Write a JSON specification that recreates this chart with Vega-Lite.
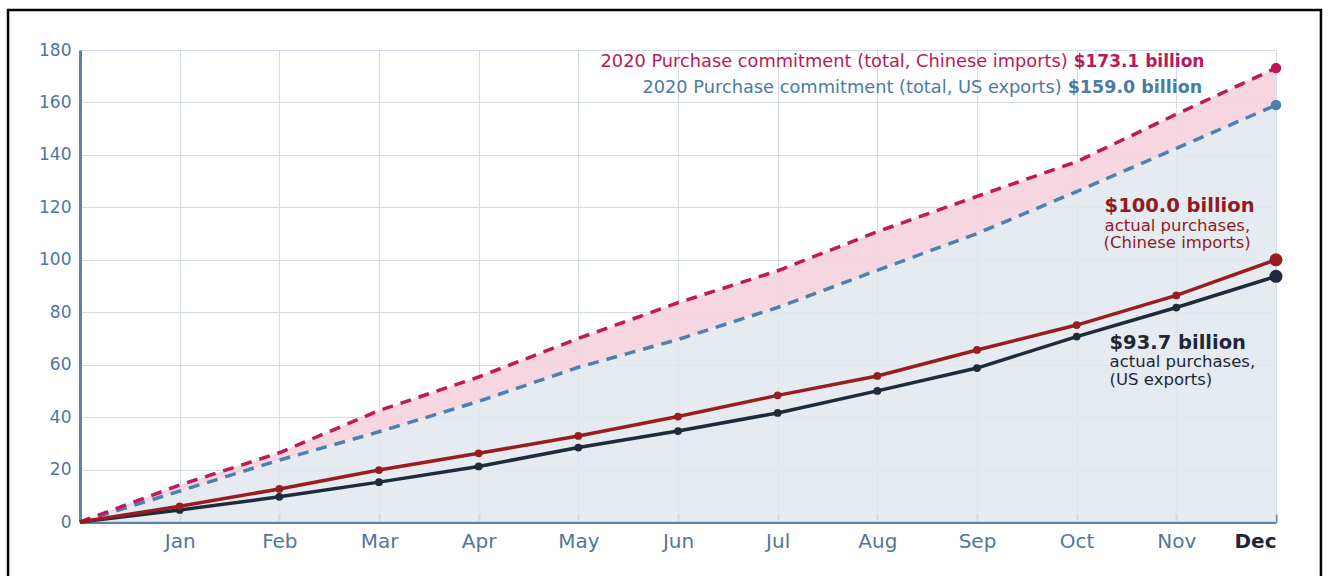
{
  "$schema": "https://vega.github.io/schema/vega-lite/v6.json",
  "width": 1196,
  "height": 472,
  "autosize": {"type": "none"},
  "padding": {"left": 80, "top": 50, "right": 54, "bottom": 54},
  "background": "white",
  "config": {
    "view": {"stroke": null},
    "font": "DejaVu Sans",
    "axis": {"zindex": 1}
  },
  "datasets": {
    "series": [
      {"month": 0, "cn_commit": 0, "us_commit": 0, "cn_actual": 0, "us_actual": 0},
      {"month": 1, "cn_commit": 14.1, "us_commit": 11.8, "cn_actual": 6.0, "us_actual": 4.6},
      {"month": 2, "cn_commit": 26.4, "us_commit": 23.6, "cn_actual": 12.6, "us_actual": 9.6},
      {"month": 3, "cn_commit": 42.5, "us_commit": 34.4, "cn_actual": 19.8, "us_actual": 15.2},
      {"month": 4, "cn_commit": 55.3, "us_commit": 46.0, "cn_actual": 26.2, "us_actual": 21.2},
      {"month": 5, "cn_commit": 70.0, "us_commit": 59.0, "cn_actual": 32.8, "us_actual": 28.4},
      {"month": 6, "cn_commit": 83.6, "us_commit": 69.6, "cn_actual": 40.2, "us_actual": 34.7},
      {"month": 7, "cn_commit": 95.8, "us_commit": 81.8, "cn_actual": 48.3, "us_actual": 41.6},
      {"month": 8, "cn_commit": 110.7, "us_commit": 96.0, "cn_actual": 55.7, "us_actual": 50.0},
      {"month": 9, "cn_commit": 124.2, "us_commit": 110.0, "cn_actual": 65.6, "us_actual": 58.7},
      {"month": 10, "cn_commit": 137.4, "us_commit": 126.0, "cn_actual": 75.1, "us_actual": 70.7},
      {"month": 11, "cn_commit": 155.5, "us_commit": 142.5, "cn_actual": 86.4, "us_actual": 81.8},
      {"month": 12, "cn_commit": 173.1, "us_commit": 159.0, "cn_actual": 100.0, "us_actual": 93.7}
    ],
    "labels": [
      {"id": "cn_top_reg", "month": 9.91, "value": 175.4, "text": "2020 Purchase commitment (total, Chinese imports)"},
      {"id": "cn_top_bold", "month": 9.97, "value": 175.4, "text": "$173.1 billion"},
      {"id": "us_top_reg", "month": 9.85, "value": 165.5, "text": "2020 Purchase commitment (total, US exports)"},
      {"id": "us_top_bold", "month": 9.91, "value": 165.5, "text": "$159.0 billion"},
      {"id": "cn_right_bold", "month": 10.28, "value": 120.5, "text": "$100.0 billion"},
      {"id": "cn_right_reg", "month": 10.28, "value": 113.0, "text": "actual purchases,"},
      {"id": "cn_right_reg", "month": 10.27, "value": 106.3, "text": "(Chinese imports)"},
      {"id": "us_right_bold", "month": 10.33, "value": 68.3, "text": "$93.7 billion"},
      {"id": "us_right_reg", "month": 10.33, "value": 61.0, "text": "actual purchases,"},
      {"id": "us_right_reg", "month": 10.33, "value": 54.2, "text": "(US exports)"}
    ]
  },
  "data": {"name": "series"},
  "encoding": {
    "x": {
      "field": "month",
      "type": "quantitative",
      "scale": {"domain": [0, 12], "nice": false, "zero": false},
      "axis": {
        "title": null,
        "values": [1, 2, 3, 4, 5, 6, 7, 8, 9, 10, 11, 12],
        "labelExpr": "['','Jan','Feb','Mar','Apr','May','Jun','Jul','Aug','Sep','Oct','Nov','Dec'][datum.value]",
        "labelFontSize": 20,
        "labelColor": {"condition": {"test": "datum.value == 12", "value": "#1e2733"}, "value": "#52769a"},
        "labelFontWeight": {"condition": {"test": "datum.value == 12", "value": "bold"}, "value": "normal"},
        "labelPadding": 17,
        "tickSize": -8,
        "tickWidth": 2,
        "tickColor": "#5d82a8",
        "domainColor": "#5d82a8",
        "domainWidth": 3,
        "grid": true,
        "gridColor": "#d3dce6",
        "gridWidth": 1
      }
    },
    "y": {
      "field": "us_commit",
      "type": "quantitative",
      "scale": {"domain": [0, 180], "nice": false},
      "axis": {
        "title": null,
        "values": [0, 20, 40, 60, 80, 100, 120, 140, 160, 180],
        "labelFontSize": 17,
        "labelColor": "#4f76a0",
        "labelPadding": 9,
        "ticks": false,
        "domainColor": "#5d82a8",
        "domainWidth": 3,
        "grid": true,
        "gridColor": "#d3dce6",
        "gridWidth": 1
      }
    }
  },
  "layer": [
    {
      "mark": {"type": "area", "color": "#e1e7ef", "opacity": 0.85},
      "encoding": {"y": {"field": "us_commit", "type": "quantitative"}, "y2": {"datum": 0}}
    },
    {
      "mark": {"type": "area", "color": "#f5d3de", "opacity": 0.9},
      "encoding": {"y": {"field": "cn_commit", "type": "quantitative"}, "y2": {"field": "us_commit"}}
    },
    {
      "mark": {"type": "line", "color": "#4c80b0", "strokeWidth": 3.5, "strokeDash": [11, 8]},
      "encoding": {"y": {"field": "us_commit", "type": "quantitative"}}
    },
    {
      "mark": {"type": "line", "color": "#c0185a", "strokeWidth": 3.5, "strokeDash": [11, 8]},
      "encoding": {"y": {"field": "cn_commit", "type": "quantitative"}}
    },
    {
      "mark": {"type": "line", "color": "#1d2b3c", "strokeWidth": 3.5},
      "encoding": {"y": {"field": "us_actual", "type": "quantitative"}}
    },
    {
      "mark": {"type": "line", "color": "#991d20", "strokeWidth": 3.5},
      "encoding": {"y": {"field": "cn_actual", "type": "quantitative"}}
    },
    {
      "transform": [{"filter": "datum.month > 0 && datum.month < 12"}],
      "mark": {"type": "circle", "color": "#1d2b3c", "opacity": 1, "size": 60},
      "encoding": {"y": {"field": "us_actual", "type": "quantitative"}}
    },
    {
      "transform": [{"filter": "datum.month > 0 && datum.month < 12"}],
      "mark": {"type": "circle", "color": "#991d20", "opacity": 1, "size": 60},
      "encoding": {"y": {"field": "cn_actual", "type": "quantitative"}}
    },
    {
      "transform": [{"filter": "datum.month == 12"}],
      "mark": {"type": "circle", "color": "#4c80b0", "opacity": 1, "size": 110},
      "encoding": {"y": {"field": "us_commit", "type": "quantitative"}}
    },
    {
      "transform": [{"filter": "datum.month == 12"}],
      "mark": {"type": "circle", "color": "#c0185a", "opacity": 1, "size": 110},
      "encoding": {"y": {"field": "cn_commit", "type": "quantitative"}}
    },
    {
      "transform": [{"filter": "datum.month == 12"}],
      "mark": {"type": "circle", "color": "#1d2b3c", "opacity": 1, "size": 170},
      "encoding": {"y": {"field": "us_actual", "type": "quantitative"}}
    },
    {
      "transform": [{"filter": "datum.month == 12"}],
      "mark": {"type": "circle", "color": "#991d20", "opacity": 1, "size": 170},
      "encoding": {"y": {"field": "cn_actual", "type": "quantitative"}}
    },
    {
      "data": {"name": "labels"},
      "transform": [{"filter": "datum.id == 'cn_top_reg'"}],
      "mark": {"type": "text", "align": "right", "baseline": "middle", "fontSize": 17.8, "color": "#b8195a"},
      "encoding": {"y": {"field": "value", "type": "quantitative"}, "text": {"field": "text"}}
    },
    {
      "data": {"name": "labels"},
      "transform": [{"filter": "datum.id == 'cn_top_bold'"}],
      "mark": {"type": "text", "align": "left", "baseline": "middle", "fontSize": 17, "fontWeight": "bold", "color": "#b8195a"},
      "encoding": {"y": {"field": "value", "type": "quantitative"}, "text": {"field": "text"}}
    },
    {
      "data": {"name": "labels"},
      "transform": [{"filter": "datum.id == 'us_top_reg'"}],
      "mark": {"type": "text", "align": "right", "baseline": "middle", "fontSize": 17.8, "color": "#4a7aa6"},
      "encoding": {"y": {"field": "value", "type": "quantitative"}, "text": {"field": "text"}}
    },
    {
      "data": {"name": "labels"},
      "transform": [{"filter": "datum.id == 'us_top_bold'"}],
      "mark": {"type": "text", "align": "left", "baseline": "middle", "fontSize": 17.5, "fontWeight": "bold", "color": "#4a7aa6"},
      "encoding": {"y": {"field": "value", "type": "quantitative"}, "text": {"field": "text"}}
    },
    {
      "data": {"name": "labels"},
      "transform": [{"filter": "datum.id == 'cn_right_bold'"}],
      "mark": {"type": "text", "align": "left", "baseline": "middle", "fontSize": 19.5, "fontWeight": "bold", "color": "#8f1c22"},
      "encoding": {"y": {"field": "value", "type": "quantitative"}, "text": {"field": "text"}}
    },
    {
      "data": {"name": "labels"},
      "transform": [{"filter": "datum.id == 'cn_right_reg'"}],
      "mark": {"type": "text", "align": "left", "baseline": "middle", "fontSize": 16.5, "color": "#8f1c22"},
      "encoding": {"y": {"field": "value", "type": "quantitative"}, "text": {"field": "text"}}
    },
    {
      "data": {"name": "labels"},
      "transform": [{"filter": "datum.id == 'us_right_bold'"}],
      "mark": {"type": "text", "align": "left", "baseline": "middle", "fontSize": 19.5, "fontWeight": "bold", "color": "#1e2733"},
      "encoding": {"y": {"field": "value", "type": "quantitative"}, "text": {"field": "text"}}
    },
    {
      "data": {"name": "labels"},
      "transform": [{"filter": "datum.id == 'us_right_reg'"}],
      "mark": {"type": "text", "align": "left", "baseline": "middle", "fontSize": 16.5, "color": "#1e2733"},
      "encoding": {"y": {"field": "value", "type": "quantitative"}, "text": {"field": "text"}}
    },
    {
      "data": {"values": [{"x1": -0.722, "x2": 12.451, "y1": 195.3, "y2": -25}]},
      "mark": {"type": "rect", "fill": null, "filled": false, "stroke": "#000000", "strokeWidth": 2.5, "clip": false},
      "encoding": {
        "x": {"field": "x1", "type": "quantitative"},
        "x2": {"field": "x2"},
        "y": {"field": "y1", "type": "quantitative"},
        "y2": {"field": "y2"}
      }
    }
  ]
}
